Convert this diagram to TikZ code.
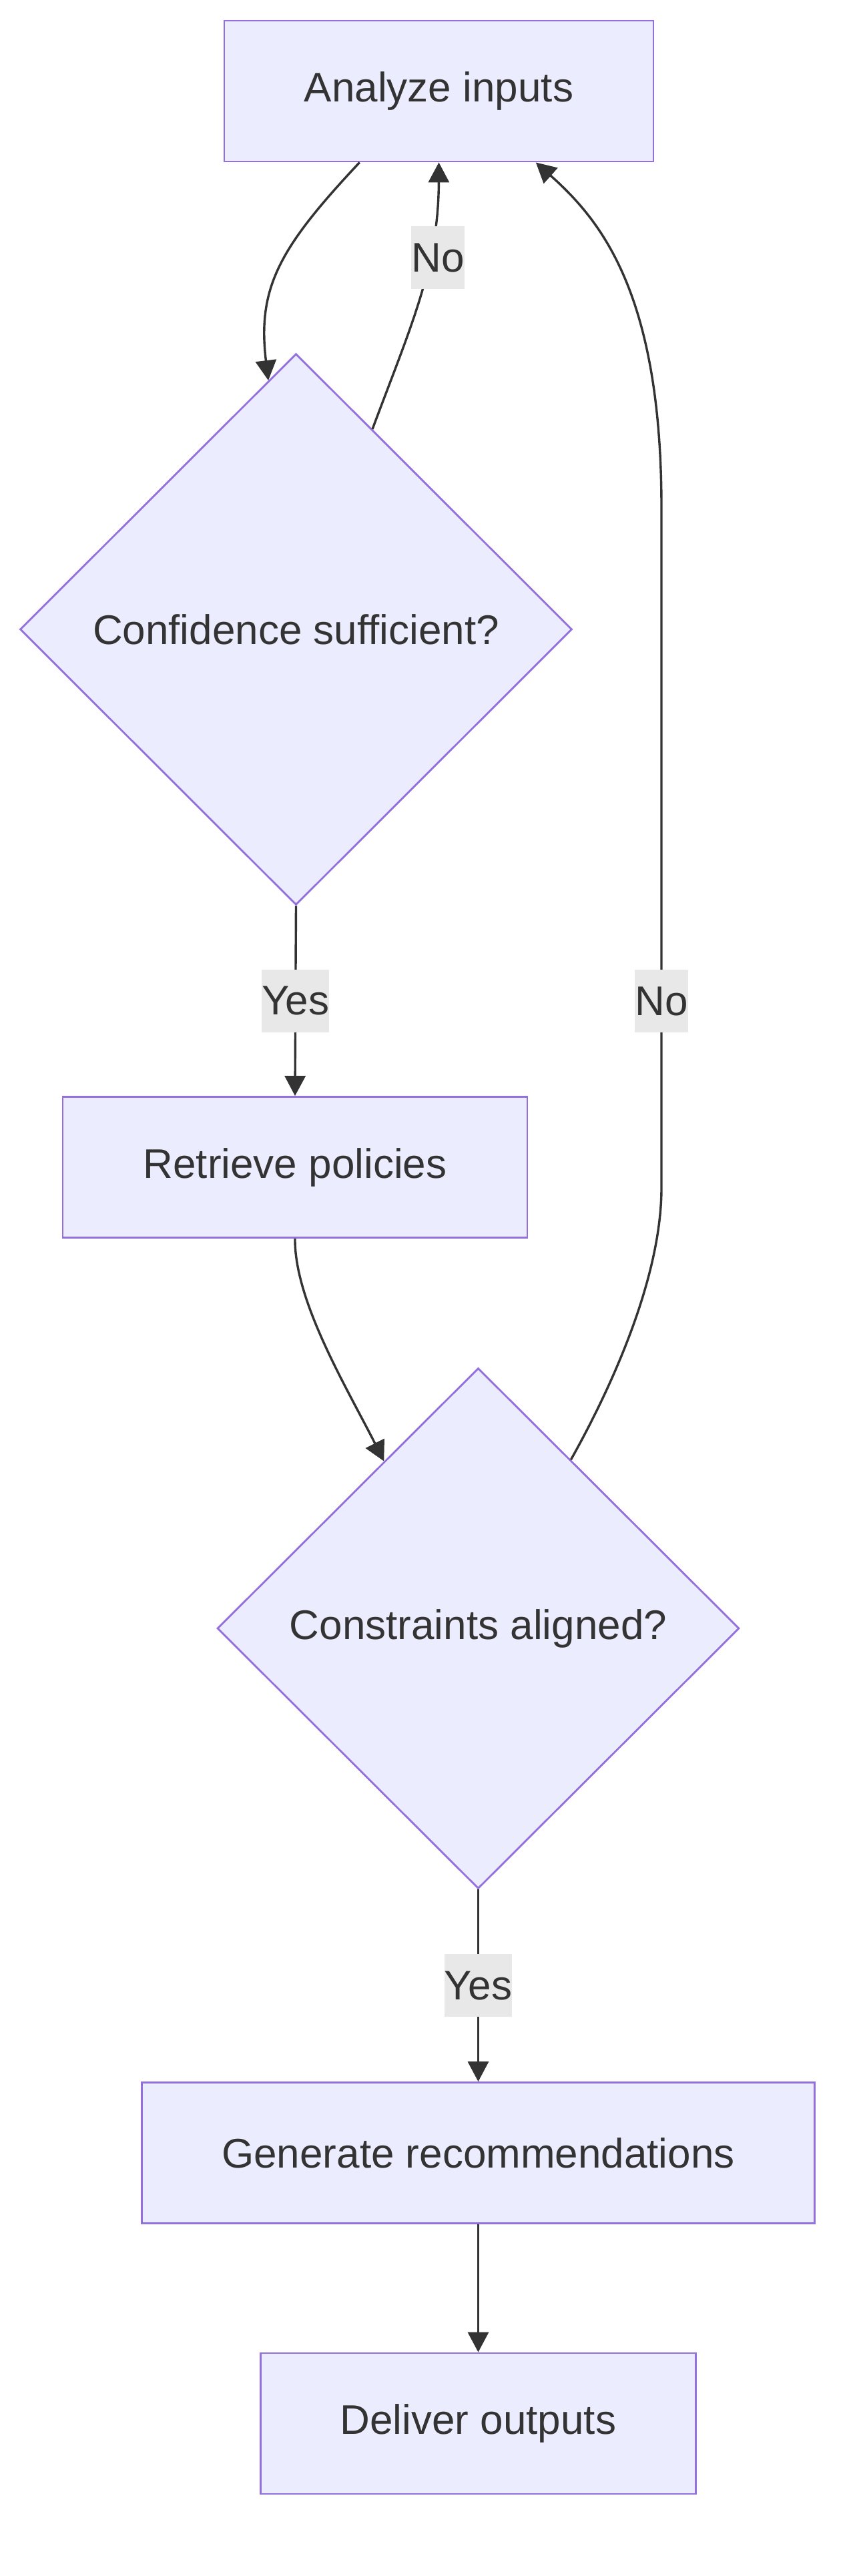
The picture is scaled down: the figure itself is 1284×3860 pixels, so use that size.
\documentclass[tikz,border=0pt]{standalone}
\usepackage{fontspec}
\setmainfont{Liberation Sans}
\usetikzlibrary{shapes.geometric,arrows.meta,calc}
\definecolor{nodefill}{HTML}{ECECFF}
\definecolor{nodeline}{HTML}{9370DB}
\definecolor{edgecol}{HTML}{333333}
\definecolor{lblbg}{HTML}{E8E8E8}
\begin{document}
\begin{tikzpicture}[x=1pt,y=-1pt,
  txt/.style={text=edgecol, font=\fontsize{62}{74}\selectfont},
  box/.style={txt, draw=nodeline, fill=nodefill, line width=2.8pt, minimum height=211pt, inner sep=0pt},
  decision/.style={txt, diamond, draw=nodeline, fill=nodefill, line width=2.8pt, inner sep=0pt},
  flow/.style={draw=edgecol, line width=3.4pt, -{Triangle[length=30pt,width=31pt]}},
  lbl/.style={txt, fill=lblbg, inner xsep=0pt, inner ysep=0pt, minimum height=94pt}
]
\useasboundingbox (0,0) rectangle (1284,3860);
\fill[white] (0,0) rectangle (1284,3860);

\node[box, minimum width=643pt] (an) at (657.5,136.5) {Analyze inputs};
\node[decision, minimum width=827pt, minimum height=826pt] (d1) at (443.5,943) {Confidence sufficient?};
\node[box, minimum width=696pt] (rp) at (442,1749) {Retrieve policies};
\node[decision, minimum width=782pt, minimum height=780pt] (d2) at (716.5,2440) {Constraints aligned?};
\node[box, minimum width=1008pt] (gr) at (716.5,3226) {Generate recommendations};
\node[box, minimum width=652pt] (dl) at (716.5,3631.5) {Deliver outputs};

\draw[flow] ($(an.south west)!0.316!(an.south east)$) .. controls (420,370) and (385,430) .. ($(d1.north)!0.1!(d1.west)$);

\draw[flow] ($(d1.north)!0.276!(d1.east)$) .. controls (615,490) and (657,400) .. (an.south);
\node[lbl] (l1) at (656,386) {No};

\draw[flow] (d1.south) -- node[lbl] (l2) {Yes} (rp.north);

\draw[flow] (rp.south) .. controls (441,1950) and (520,2080) .. ($(d2.north)!0.36!(d2.west)$);

\draw[flow] ($(d2.north)!0.354!(d2.east)$) .. controls (910,2090) and (991,1920) .. (991,1780) -- (991,760) .. controls (991,440) and (900,330) .. ($(an.south west)!0.725!(an.south east)$);
\node[lbl] (l3) at (991,1500) {No};

\draw[flow] (d2.south) -- node[lbl] (l4) {Yes} (gr.north);

\draw[flow] (gr.south) -- (dl.north);
\end{tikzpicture}
\end{document}
